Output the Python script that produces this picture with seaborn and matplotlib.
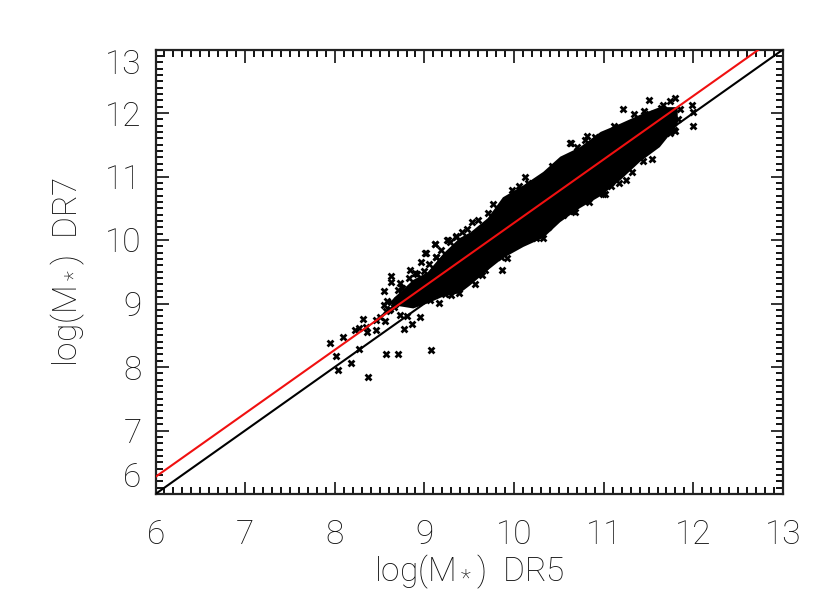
import numpy as np
import pandas as pd
import seaborn as sns
import matplotlib
matplotlib.use("Agg")
import matplotlib.pyplot as plt
from matplotlib.ticker import MultipleLocator

# 1:1 line and offset line
line_x = [6, 13]
black_y = [6, 13]
red_y = [6.27, 13.27]

core_x = [8.65, 8.87, 9.03, 9.21, 9.39, 9.51, 9.70, 9.87, 10.10, 10.32, 10.51, 10.73, 10.96, 11.18, 11.40, 11.62, 11.82]
core_hi = [9.09, 9.38, 9.50, 9.80, 10.04, 10.13, 10.35, 10.68, 10.87, 11.08, 11.32, 11.47, 11.71, 11.84, 11.98, 12.10, 12.10]
core_lo = [8.98, 8.93, 9.01, 9.12, 9.17, 9.30, 9.53, 9.72, 9.90, 10.04, 10.29, 10.51, 10.70, 10.95, 11.24, 11.47, 11.82]

# individual points that stand clear of the core
dr5 = [7.95, 8.09, 8.01, 8.04, 8.18, 8.27, 8.37, 8.57, 8.71, 9.07, 8.22, 8.27, 8.32, 8.35, 8.36,
       8.46, 8.46, 8.56, 8.50, 8.77, 8.86, 8.95, 8.80, 8.73, 8.55, 8.63, 8.63, 8.73, 8.70, 8.84,
       8.92, 8.99, 8.96, 9.02, 9.12, 9.26, 9.35, 9.13, 9.16, 9.06,
       8.55, 8.58, 8.60, 8.63, 8.66, 8.69, 8.57, 8.62, 8.67,
       11.51, 11.21, 11.34, 11.74, 11.80, 11.98, 12.0, 12.0, 10.81, 10.62, 10.70, 11.54, 11.44,
       11.25, 11.17, 11.01, 10.83, 10.68, 10.56, 11.79, 11.74,
       10.12, 10.06, 9.98, 9.53, 9.60, 9.35, 9.25, 9.12, 9.01, 9.13, 10.63,
       9.86, 9.68, 9.92, 10.32, 9.39, 10.66, 10.99,
       9.42, 9.71, 9.76, 10.15, 10.19, 10.38, 10.55, 9.85, 11.85, 11.74, 11.78, 11.64, 11.51, 11.83,
       10.79, 9.18, 9.29, 9.48, 9.23, 9.56, 9.64, 10.24, 10.84, 11.08, 11.31,
       8.75, 8.83, 8.90, 9.05, 9.30, 10.42, 10.90, 11.12, 11.45, 11.66]
dr7 = [8.38, 8.47, 8.17, 7.96, 8.07, 8.28, 7.85, 8.20, 8.20, 8.27, 8.59, 8.61, 8.76, 8.63, 8.55,
       8.58, 8.74, 8.72, 8.79, 8.60, 8.67, 8.79, 8.81, 8.82, 9.20, 9.44, 9.34, 9.33, 9.22, 9.53,
       9.46, 9.51, 9.66, 9.79, 9.93, 10.0, 10.06, 9.73, 9.01, 9.05,
       8.97, 9.04, 8.90, 9.02, 8.95, 9.06, 8.88, 8.92, 8.99,
       12.20, 12.06, 11.99, 12.19, 12.24, 12.12, 12.02, 11.80, 11.64, 11.52, 11.47, 11.28, 11.24,
       10.95, 10.90, 10.73, 10.69, 10.44, 10.43, 11.71, 11.80,
       11.0, 10.85, 10.79, 10.28, 10.32, 10.05, 10.0, 9.94, 9.80, 9.74, 11.52,
       9.53, 9.52, 9.72, 10.03, 9.17, 10.45, 10.73,
       10.13, 10.43, 10.56, 10.90, 10.06, 10.20, 10.40, 9.74, 12.06, 11.69, 11.74, 12.08, 11.98, 11.90,
       11.58, 9.85, 9.97, 10.18, 9.15, 9.31, 9.45, 10.03, 10.60, 10.85, 11.07,
       9.24, 9.40, 9.48, 9.62, 9.13, 11.17, 11.62, 11.80, 12.03, 12.12]

x_ticks = [6, 7, 8, 9, 10, 11, 12, 13]
y_ticks = [6, 7, 8, 9, 10, 11, 12, 13]

sns.set_theme(style="white")
plt.rcParams['font.family'] = ['Roboto', 'DejaVu Sans']
plt.rcParams['font.weight'] = 'light'
plt.rcParams['mathtext.default'] = 'regular'

fig = plt.figure(figsize=(8.3, 5.93), dpi=100)
ax = fig.add_axes([155.5 / 830, 99 / 593, 627.5 / 830, 444.5 / 593])

df = pd.DataFrame({"dr5": dr5, "dr7": dr7})
ax.fill_between(core_x, core_lo, core_hi, color="black", lw=0, zorder=2)
sns.scatterplot(data=df, x="dr5", y="dr7", marker="X", s=32, color="black", linewidth=0, ax=ax, zorder=3)
sns.lineplot(x=line_x, y=black_y, color="black", lw=1.5, ax=ax, zorder=4)
sns.lineplot(x=line_x, y=red_y, color="#f01010", lw=1.5, ax=ax, zorder=5)

ax.set_xlim(6, 13)
ax.set_ylim(6, 13)
ax.set_xticks(x_ticks)
ax.set_yticks(y_ticks)
ax.xaxis.set_minor_locator(MultipleLocator(0.1))
ax.yaxis.set_minor_locator(MultipleLocator(0.1))
ax.tick_params(which="major", direction="in", length=9, width=1.2, top=True, right=True,
               bottom=True, left=True, color="#111111", labelsize=24, labelcolor="#111111")
ax.tick_params(which="minor", direction="in", length=5, width=1.4, top=True, right=True,
               bottom=True, left=True, color="#111111")
ax.tick_params(axis="x", which="major", pad=18)
ax.tick_params(axis="y", which="major", pad=10)

# end labels sit inside the axis range
labels = ax.get_yticklabels()
labels[0].set_va("bottom")
labels[-1].set_va("top")

for s in ax.spines.values():
    s.set_linewidth(1.6)
    s.set_color("#222222")
    s.set_visible(True)

ax.set_xlabel("log(M$_*$)  DR5", fontsize=24, fontweight="light", color="#111111", labelpad=1)
ax.set_ylabel("log(M$_*$)  DR7", fontsize=24, fontweight="light", color="#111111", labelpad=13)

fig.savefig("out.png", dpi=100)
